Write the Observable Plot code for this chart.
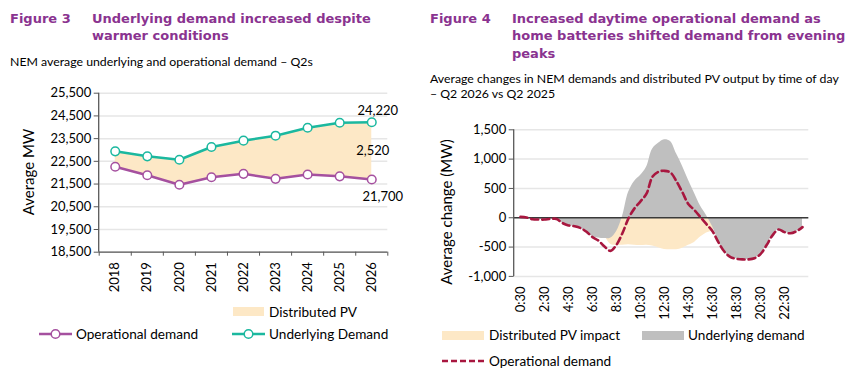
<!DOCTYPE html>
<html>
<head>
<meta charset="utf-8">
<script src="https://cdn.jsdelivr.net/npm/d3@7"></script>
<script src="https://cdn.jsdelivr.net/npm/@observablehq/plot@0.6"></script>
<style>
  body { margin: 0; background: #fff; }
  #root { position: relative; width: 852px; height: 376px; overflow: hidden; background: #fff; }
  #root svg { position: absolute; }
  #overlay { left: 0; top: 0; z-index: 2; pointer-events: none; }
</style>
</head>
<body>
<div id="root"></div>
<script>
// ---- Figure 3: NEM average underlying and operational demand, Q2 of each year ----
const years = [2018, 2019, 2020, 2021, 2022, 2023, 2024, 2025, 2026];
const underlyingMW = [22940, 22720, 22570, 23130, 23410, 23630, 23980, 24200, 24220];
const operationalMW = [22260, 21890, 21470, 21800, 21950, 21730, 21920, 21840, 21700];
const mwTicks = [18500, 19500, 20500, 21500, 22500, 23500, 24500, 25500];

// ---- Figure 4: change by half hour, Q2 2026 vs Q2 2025 ----
const times = ["0:30", "1:00", "1:30", "2:00", "2:30", "3:00", "3:30", "4:00",
  "4:30", "5:00", "5:30", "6:00", "6:30", "7:00", "7:30", "8:00",
  "8:30", "9:00", "9:30", "10:00", "10:30", "11:00", "11:30", "12:00",
  "12:30", "13:00", "13:30", "14:00", "14:30", "15:00", "15:30", "16:00",
  "16:30", "17:00", "17:30", "18:00", "18:30", "19:00", "19:30", "20:00",
  "20:30", "21:00", "21:30", "22:00", "22:30", "23:00", "23:30", "24:00"];
const timeTickLabels = ["0:30", "2:30", "4:30", "6:30", "8:30", "10:30",
  "12:30", "14:30", "16:30", "18:30", "20:30", "22:30"];
const underlyingChange = [15, 5, -25, -30, -30, -20, -20, -90, -130, -145, -175, -240,
  -320, -345, -355, -350, -240, 20, 430, 620, 720, 860, 1170, 1270,
  1330, 1300, 1090, 880, 640, 420, 200, 40, -150, -400, -580, -670,
  -700, -710, -710, -690, -620, -470, -300, -200, -245, -265, -230, -160];
const pvImpact = [0, 0, 0, 0, 0, 0, 0, 0, 0, 0, 0, 0,
  -30, -120, -300, -450, -470, -470, -460, -470, -475, -470, -480, -510,
  -540, -545, -545, -520, -470, -420, -330, -260, -220, -80, 0, 0,
  0, 0, 0, 0, 0, 0, 0, 0, 0, 0, 0, 0];
const operationalChange = [15, 5, -25, -30, -30, -20, -20, -90, -130, -145, -175, -240,
  -330, -390, -490, -565, -460, -260, -10, 160, 280, 410, 700, 785,
  800, 770, 620, 430, 230, 130, 10, -110, -230, -420, -580, -670,
  -700, -710, -710, -690, -620, -470, -300, -200, -245, -265, -230, -160];
const changeTicks = [-1000, -500, 0, 500, 1000, 1500];

const purple = "#a5509f";
const teal = "#1bb89f";
const peach = "#fde8c6";
const grey = "#bfbfbf";
const crimson = "#a8173f";
const axisGrey = "#595959";
const gridGrey = "#e6e6e6";
const bodyFont = "Lato, 'Open Sans', sans-serif";
const fmt = d => d.toLocaleString("en-US");

// vertical axis line along the left edge of the frame
const leftDomainLine = (index, scales, values, dim) => {
  const g = d3.create("svg:line")
    .attr("x1", dim.marginLeft).attr("x2", dim.marginLeft)
    .attr("y1", dim.marginTop).attr("y2", dim.height - dim.marginBottom)
    .attr("stroke", axisGrey).attr("stroke-width", 1.3);
  return g.node();
};

const root = document.getElementById("root");

// ---------- left chart ----------
const leftRows = years.map((year, i) => ({year, underlying: underlyingMW[i], operational: operationalMW[i]}));
const yearEdges = [...years.map(y => y - 0.5), years[years.length - 1] + 0.5];
const lastRow = leftRows[leftRows.length - 1];

const left = Plot.plot({
  width: 420, height: 220,
  marginLeft: 98.7, marginRight: 32.7, marginTop: 12.7, marginBottom: 48.3,
  x: {domain: [yearEdges[0], yearEdges[yearEdges.length - 1]]},
  y: {domain: [mwTicks[0], mwTicks[mwTicks.length - 1]]},
  style: {fontFamily: bodyFont, fontSize: "13px", color: "#000", background: "transparent"},
  marks: [
    Plot.gridY({ticks: mwTicks, stroke: gridGrey, strokeOpacity: 1, strokeWidth: 1.5}),
    Plot.areaY(leftRows, {x: "year", y1: "operational", y2: "underlying", fill: peach}),
    leftDomainLine,
    Plot.ruleY([mwTicks[0]], {stroke: axisGrey, strokeWidth: 1.3}),
    Plot.axisY({ticks: mwTicks, tickFormat: fmt, tickSize: 5, tickPadding: 3, stroke: axisGrey, label: null}),
    Plot.axisX({ticks: yearEdges, tickSize: 4, tickFormat: () => "", stroke: axisGrey, label: null}),
    Plot.axisX({ticks: years, tickSize: 0, tickPadding: 10, tickRotate: -90, tickFormat: d => String(d), label: null}),
    Plot.line(leftRows, {x: "year", y: "operational", stroke: purple, strokeWidth: 2.5}),
    Plot.line(leftRows, {x: "year", y: "underlying", stroke: teal, strokeWidth: 2.5}),
    Plot.dot(leftRows, {x: "year", y: "operational", r: 4.3, stroke: purple, fill: "white", strokeWidth: 1.5}),
    Plot.dot(leftRows, {x: "year", y: "underlying", r: 4.3, stroke: teal, fill: "white", strokeWidth: 1.5}),
    Plot.text([lastRow], {x: "year", y: "underlying", text: d => fmt(d.underlying), dx: 6, dy: -11, fontSize: 13}),
    Plot.text([lastRow], {x: "year", y: d => (d.underlying + d.operational) / 2,
      text: d => fmt(d.underlying - d.operational), dx: 1, fontSize: 13}),
    Plot.text([lastRow], {x: "year", y: "operational", text: d => fmt(d.operational), dx: 11, dy: 17, fontSize: 13})
  ]
});
left.style.left = "0px";
left.style.top = "80px";
root.appendChild(left);

// ---------- right chart ----------
const rightRows = times.map((time, i) => ({
  time, underlying: underlyingChange[i], pv: pvImpact[i], operational: operationalChange[i]
}));

const right = Plot.plot({
  width: 427, height: 215,
  marginLeft: 88.7, marginRight: 43.7, marginTop: 19.3, marginBottom: 49.1,
  x: {type: "point", domain: times, padding: 0.5},
  y: {domain: [changeTicks[0], changeTicks[changeTicks.length - 1]]},
  style: {fontFamily: bodyFont, fontSize: "13px", color: "#000", background: "transparent"},
  marks: [
    Plot.gridY({ticks: changeTicks, stroke: gridGrey, strokeOpacity: 1, strokeWidth: 1.5}),
    Plot.areaY(rightRows, {x: "time", y: "pv", fill: peach, curve: "catmull-rom"}),
    Plot.areaY(rightRows, {x: "time", y: "underlying", fill: grey, curve: "catmull-rom"}),
    Plot.ruleY([0], {stroke: "#3a3a3a", strokeWidth: 1.3}),
    leftDomainLine,
    Plot.axisY({ticks: changeTicks, tickFormat: fmt, tickSize: 5, tickPadding: 3, stroke: axisGrey, label: null}),
    Plot.axisX({ticks: timeTickLabels, tickSize: 0, tickPadding: 10, tickRotate: -90, label: null}),
    Plot.line(rightRows, {x: "time", y: "operational", stroke: crimson, strokeWidth: 2.6,
      strokeDasharray: "7,4", curve: "catmull-rom"})
  ]
});
right.style.left = "425px";
right.style.top = "110px";
root.appendChild(right);

// ---------- titles, axis titles and legends ----------
const ov = d3.select(root).append("svg").attr("id", "overlay").attr("width", 852).attr("height", 376);
const titleColor = "#8a3390";
const titleFont = "'DejaVu Sans', sans-serif";

function title(x, y, str) {
  ov.append("text").attr("x", x).attr("y", y).text(str)
    .attr("fill", titleColor).attr("font-family", titleFont).attr("font-weight", "bold").attr("font-size", 13);
}
function body(x, y, str, size = 12.3) {
  ov.append("text").attr("x", x).attr("y", y).text(str)
    .attr("fill", "#000").attr("font-family", bodyFont).attr("font-size", size);
}

title(10, 22.5, "Figure 3");
title(92, 22.5, "Underlying demand increased despite");
title(92, 39.5, "warmer conditions");
body(10, 65.5, "NEM average underlying and operational demand \u2013 Q2s");

title(430, 22.5, "Figure 4");
title(512, 22.5, "Increased daytime operational demand as");
title(512, 40, "home batteries shifted demand from evening");
title(512, 57.5, "peaks");
body(430, 83, "Average changes in NEM demands and distributed PV output by time of day");
body(430, 98, "\u2013 Q2 2026 vs Q2 2025");

// rotated axis titles
ov.append("text").attr("transform", "translate(34,172) rotate(-90)").attr("text-anchor", "middle")
  .attr("font-family", bodyFont).attr("font-size", 15).text("Average MW");
ov.append("text").attr("transform", "translate(452,212) rotate(-90)").attr("text-anchor", "middle")
  .attr("font-family", bodyFont).attr("font-size", 15).text("Average change (MW)");

// left legend
ov.append("rect").attr("x", 233).attr("y", 307).attr("width", 31).attr("height", 9).attr("fill", peach);
body(269, 316.5, "Distributed PV", 13.6);
[[39, purple, "Operational demand"], [232, teal, "Underlying Demand"]].forEach(([x, c, label]) => {
  ov.append("line").attr("x1", x).attr("x2", x + 33).attr("y1", 334).attr("y2", 334)
    .attr("stroke", c).attr("stroke-width", 2.5);
  ov.append("circle").attr("cx", x + 16.5).attr("cy", 334).attr("r", 4.3)
    .attr("fill", "white").attr("stroke", c).attr("stroke-width", 1.5);
  body(x + 37, 338.5, label, 13.6);
});

// right legend
ov.append("rect").attr("x", 442).attr("y", 331).attr("width", 42).attr("height", 9).attr("fill", peach);
body(489, 339.5, "Distributed PV impact", 13.6);
ov.append("rect").attr("x", 642).attr("y", 331).attr("width", 42).attr("height", 9).attr("fill", grey);
body(688, 339.5, "Underlying demand", 13.6);
ov.append("line").attr("x1", 442).attr("x2", 484).attr("y1", 361).attr("y2", 361)
  .attr("stroke", crimson).attr("stroke-width", 2.6).attr("stroke-dasharray", "6,3");
body(489, 365.5, "Operational demand", 13.6);
</script>
</body>
</html>
